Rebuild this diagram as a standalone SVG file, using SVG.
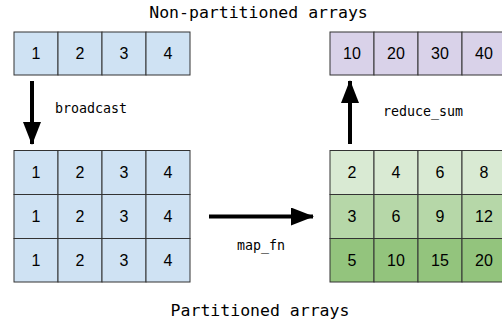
<svg xmlns="http://www.w3.org/2000/svg" width="502" height="322" viewBox="0 0 502 322">
<style>
.c{stroke:#333;stroke-width:1}
.b{fill:#cfe2f3}.p{fill:#d9d2e9}.g1{fill:#d9ead3}.g2{fill:#b6d7a8}.g3{fill:#93c47d}
.n{font-family:"Liberation Sans",Arial,sans-serif;font-size:16px;fill:#000;text-anchor:middle}
.m{font-family:"DejaVu Sans Mono",monospace;fill:#000}
.t{font-size:16.5px;text-anchor:middle}
.l{font-size:13.3px}
.a{stroke:#000;stroke-width:4;fill:none}
</style>
<defs>
<marker id="ah" markerUnits="userSpaceOnUse" markerWidth="24" markerHeight="18" viewBox="0 0 24 18" refX="22" refY="9" orient="auto">
<path d="M0,0 L23,9 L0,18 Z" fill="#000"/>
</marker>
</defs>
<text class="m t" x="258.5" y="18">Non-partitioned arrays</text>
<text class="m t" x="260" y="316">Partitioned arrays</text>

<g id="input">
<rect class="c b" x="14" y="32" width="44" height="43"/>
<rect class="c b" x="58" y="32" width="44" height="43"/>
<rect class="c b" x="102" y="32" width="44" height="43"/>
<rect class="c b" x="146" y="32" width="44" height="43"/>
<text class="n" x="36" y="59">1</text><text class="n" x="80" y="59">2</text><text class="n" x="124" y="59">3</text><text class="n" x="168" y="59">4</text>
</g>

<g id="broadcasted">
<rect class="c b" x="14" y="150.5" width="44" height="44"/><rect class="c b" x="58" y="150.5" width="44" height="44"/><rect class="c b" x="102" y="150.5" width="44" height="44"/><rect class="c b" x="146" y="150.5" width="44" height="44"/>
<rect class="c b" x="14" y="194.5" width="44" height="44"/><rect class="c b" x="58" y="194.5" width="44" height="44"/><rect class="c b" x="102" y="194.5" width="44" height="44"/><rect class="c b" x="146" y="194.5" width="44" height="44"/>
<rect class="c b" x="14" y="238.5" width="44" height="43.5"/><rect class="c b" x="58" y="238.5" width="44" height="43.5"/><rect class="c b" x="102" y="238.5" width="44" height="43.5"/><rect class="c b" x="146" y="238.5" width="44" height="43.5"/>
<text class="n" x="36" y="178">1</text><text class="n" x="80" y="178">2</text><text class="n" x="124" y="178">3</text><text class="n" x="168" y="178">4</text>
<text class="n" x="36" y="222">1</text><text class="n" x="80" y="222">2</text><text class="n" x="124" y="222">3</text><text class="n" x="168" y="222">4</text>
<text class="n" x="36" y="266">1</text><text class="n" x="80" y="266">2</text><text class="n" x="124" y="266">3</text><text class="n" x="168" y="266">4</text>
</g>

<g id="mapped">
<rect class="c g1" x="330" y="150.5" width="44" height="44"/><rect class="c g1" x="374" y="150.5" width="44" height="44"/><rect class="c g1" x="418" y="150.5" width="44" height="44"/><rect class="c g1" x="462" y="150.5" width="44" height="44"/>
<rect class="c g2" x="330" y="194.5" width="44" height="44"/><rect class="c g2" x="374" y="194.5" width="44" height="44"/><rect class="c g2" x="418" y="194.5" width="44" height="44"/><rect class="c g2" x="462" y="194.5" width="44" height="44"/>
<rect class="c g3" x="330" y="238.5" width="44" height="43.5"/><rect class="c g3" x="374" y="238.5" width="44" height="43.5"/><rect class="c g3" x="418" y="238.5" width="44" height="43.5"/><rect class="c g3" x="462" y="238.5" width="44" height="43.5"/>
<text class="n" x="352" y="178">2</text><text class="n" x="396" y="178">4</text><text class="n" x="440" y="178">6</text><text class="n" x="484" y="178">8</text>
<text class="n" x="352" y="222">3</text><text class="n" x="396" y="222">6</text><text class="n" x="440" y="222">9</text><text class="n" x="484" y="222">12</text>
<text class="n" x="352" y="266">5</text><text class="n" x="396" y="266">10</text><text class="n" x="440" y="266">15</text><text class="n" x="484" y="266">20</text>
</g>

<g id="result">
<rect class="c p" x="330" y="32" width="44" height="43"/>
<rect class="c p" x="374" y="32" width="44" height="43"/>
<rect class="c p" x="418" y="32" width="44" height="43"/>
<rect class="c p" x="462" y="32" width="44" height="43"/>
<text class="n" x="352" y="59">10</text><text class="n" x="396" y="59">20</text><text class="n" x="440" y="59">30</text><text class="n" x="484" y="59">40</text>
</g>

<g id="connectors">
<line class="a" x1="32" y1="81" x2="32" y2="144" marker-end="url(#ah)"/>
<line class="a" x1="350" y1="144" x2="350" y2="81" marker-end="url(#ah)"/>
<line class="a" x1="209" y1="216.5" x2="313" y2="216.5" marker-end="url(#ah)"/>
<text class="m l" x="55" y="113">broadcast</text>
<text class="m l" x="383" y="116">reduce_sum</text>
<text class="m l" x="237" y="250">map_fn</text>
</g>
</svg>
